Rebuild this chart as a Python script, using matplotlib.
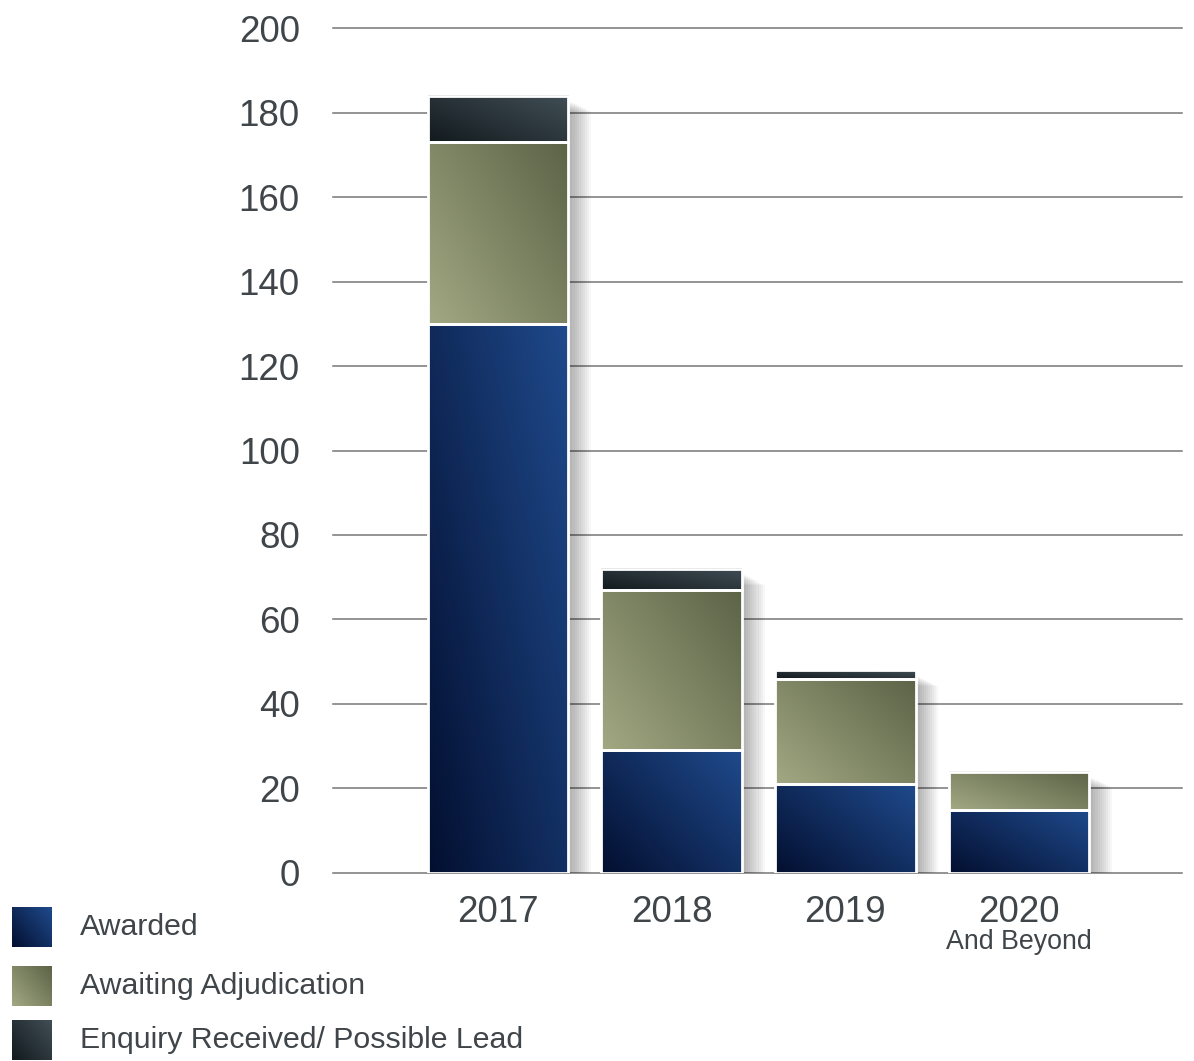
import numpy as np
import matplotlib.pyplot as plt
from matplotlib.patches import Rectangle
from matplotlib.colors import to_rgb

plt.rcParams['font.family'] = ['Liberation Sans', 'DejaVu Sans']

years = ['2017', '2018', '2019', '2020']
awarded = [130, 29, 21, 15]
awaiting = [43, 38, 25, 9]
enquiry = [11, 5, 2, 0]
series_names = ['Awarded', 'Awaiting Adjudication', 'Enquiry Received/ Possible Lead']
yticks = list(range(0, 201, 20))

# (bottom-left colour, top-right colour) for each series
grads = [('#030f30', '#1f4a8c'),
         ('#a2a882', '#5c6347'),
         ('#121a1e', '#414e55')]
text_col = '#3f4549'


def grad_img(c0, c1, n=64):
    a = np.array(to_rgb(c0))
    b = np.array(to_rgb(c1))
    xx, yy = np.meshgrid(np.linspace(0, 1, n), np.linspace(0, 1, n))
    t = (0.55 * xx + 0.45 * yy)[..., None]
    return a * (1 - t) + b * t


def grad_rect(ax, x0, y0, w, h, c0, c1, z=3, edge=True):
    ax.imshow(grad_img(c0, c1), extent=[x0, x0 + w, y0, y0 + h], origin='lower',
              aspect='auto', zorder=z, interpolation='bilinear')
    if edge:
        ax.add_patch(Rectangle((x0, y0), w, h, fill=False, ec='white', lw=2, zorder=z + 0.1))


fig = plt.figure(figsize=(11.94, 10.61), dpi=100)
ax = fig.add_axes([0.2789, 0.1772, 0.7111, 0.7964])
ax.set_xlim(-0.95, 3.94)
ax.set_ylim(0, 200)

for v in yticks:
    ax.axhline(v, color='#777777', lw=1.1, zorder=1, clip_on=False)

w = 0.81
x = np.arange(len(years))
stacks = [awarded, awaiting, enquiry]
for i in x:
    total = awarded[i] + awaiting[i] + enquiry[i]
    # soft drop shadow
    for k in range(12):
        ax.add_patch(Rectangle((i - w / 2 + 0.012 * k, -0.5 - 0.25 * k), w, total - 0.5,
                               color='#000000', alpha=0.03, lw=0, zorder=2))
    bottom = 0
    for s, vals in enumerate(stacks):
        if vals[i] > 0:
            grad_rect(ax, i - w / 2, bottom, w, vals[i], *grads[s])
        bottom += vals[i]

ax.set_yticks(yticks)
ax.set_yticklabels([str(v) for v in yticks], fontsize=26.5, color=text_col)
ax.tick_params(axis='y', length=0, pad=24)
ax.set_xticks([])
for sp in ax.spines.values():
    sp.set_visible(False)

for i, yr in enumerate(years):
    ax.text(i, -9.4, yr, ha='center', va='center', fontsize=26.5, color=text_col)
ax.text(3, -16.4, 'And Beyond', ha='center', va='center', fontsize=19.3, color=text_col)

# legend swatches and labels in figure pixels
lax = fig.add_axes([0, 0, 1, 1], zorder=-1)
lax.axis('off')
for s, (name, yc) in enumerate(zip(series_names, [927, 986, 1040])):
    grad_rect(lax, 12, yc + 20, 40, -40, grads[s][0], grads[s][1], edge=False)
    lax.text(80, yc, name, ha='left', va='center', fontsize=21.8, color=text_col)
lax.set_xlim(0, 1194)
lax.set_ylim(1061, 0)

fig.savefig('out.png', dpi=100)
